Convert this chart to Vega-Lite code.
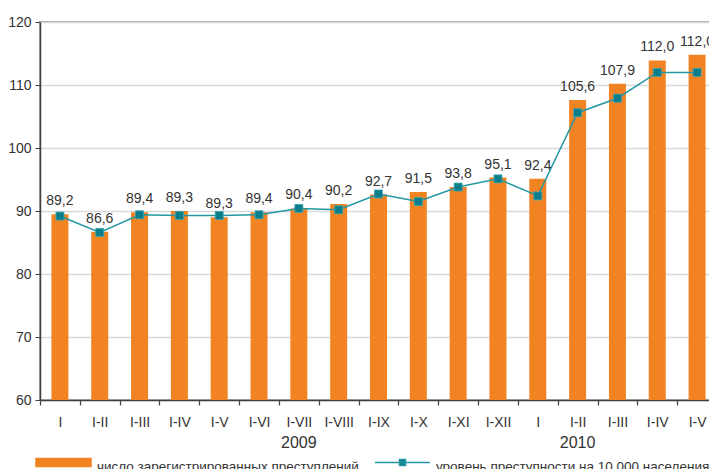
{
  "$schema": "https://vega.github.io/schema/vega-lite/v6.json",
  "width": 677,
  "height": 378,
  "autosize": "none",
  "padding": {"left": 40, "top": 22, "right": 0, "bottom": 69},
  "config": {
    "font": "Liberation Sans",
    "locale": {"number": {"decimal": ",", "thousands": " ", "grouping": [3], "currency": ["", ""]}},
    "view": {"stroke": "#8c8c8c", "strokeWidth": 1.5}
  },
  "data": {"values": [
    {"key": "2009|I", "bar": 89.5, "line": 89.2},
    {"key": "2009|I-II", "bar": 86.7, "line": 86.6},
    {"key": "2009|I-III", "bar": 89.8, "line": 89.4},
    {"key": "2009|I-IV", "bar": 90.0, "line": 89.3},
    {"key": "2009|I-V", "bar": 89.0, "line": 89.3},
    {"key": "2009|I-VI", "bar": 89.8, "line": 89.4},
    {"key": "2009|I-VII", "bar": 90.4, "line": 90.4},
    {"key": "2009|I-VIII", "bar": 91.1, "line": 90.2},
    {"key": "2009|I-IX", "bar": 92.6, "line": 92.7},
    {"key": "2009|I-X", "bar": 93.0, "line": 91.5},
    {"key": "2009|I-XI", "bar": 93.8, "line": 93.8},
    {"key": "2009|I-XII", "bar": 95.3, "line": 95.1},
    {"key": "2010|I", "bar": 95.1, "line": 92.4},
    {"key": "2010|I-II", "bar": 107.6, "line": 105.6},
    {"key": "2010|I-III", "bar": 110.2, "line": 107.9},
    {"key": "2010|I-IV", "bar": 113.9, "line": 112.0},
    {"key": "2010|I-V", "bar": 114.8, "line": 112.0}
  ]},
  "layer": [
    {
      "mark": {"type": "bar", "width": 17, "clip": true},
      "encoding": {
        "x": {"field": "key", "type": "ordinal", "sort": null,
          "scale": {"paddingInner": 0, "paddingOuter": 0},
          "axis": {"title": null, "orient": "bottom", "labelExpr": "split(datum.value,'|')[1]", "labelAngle": 0, "tickBand": "extent",
            "domainColor": "#404040", "domainWidth": 1.5, "tickColor": "#404040", "tickSize": 5, "tickWidth": 1.2,
            "labelFontSize": 14, "labelColor": "#333333", "labelPadding": 10, "grid": false, "labelOverlap": false}},
        "y": {"field": "bar", "type": "quantitative", "title": null,
          "scale": {"domain": [60, 120], "nice": false, "zero": false},
          "axis": {"values": [60, 70, 80, 90, 100, 110, 120], "domainColor": "#404040", "domainWidth": 1.5,
            "tickColor": "#404040", "tickSize": 5, "labelFontSize": 14, "labelColor": "#333333", "labelPadding": 4,
            "gridColor": "#d9d9d9", "gridWidth": 1.5}},
        "color": {"datum": "число зарегистрированных преступлений", "type": "nominal",
          "scale": {"domain": ["число зарегистрированных преступлений", "уровень преступности на 10 000 населения"], "range": ["#f28322", "#0b7d8a"]},
          "legend": {"title": null, "orient": "none", "direction": "horizontal", "legendX": -5, "legendY": 412,
            "symbolSize": 3025, "labelFontSize": 13.5, "labelColor": "#333333", "labelLimit": 400, "labelOffset": 5,
            "columnPadding": 13, "padding": 0,
            "encode": {
              "labels": {"update": {"dy": {"value": 4}}},
              "symbols": {"update": {
              "shape": {"signal": "datum.value === 'число зарегистрированных преступлений' ? 'M-1,-0.145H1V0.145H-1Z' : 'M-1,0H1M-0.11,-0.11H0.11V0.11H-0.11Z'"},
              "fill": {"signal": "datum.value === 'число зарегистрированных преступлений' ? '#f28322' : '#0b7d8a'"},
              "stroke": {"signal": "datum.value === 'число зарегистрированных преступлений' ? '#f28322' : '#2496a3'"},
              "strokeWidth": {"value": 1.5},
              "opacity": {"value": 1}
            }}}}
        }
      }
    },
    {
      "mark": {"type": "line", "color": "#2496a3", "strokeWidth": 1.5},
      "encoding": {
        "x": {"field": "key", "type": "ordinal", "sort": null,
          "axis": {"title": null, "orient": "bottom", "labelExpr": "datum.value == '2009|I-VII' ? '2009' : datum.value == '2010|I-II' ? '2010' : ''",
            "labelAngle": 0, "ticks": false, "domain": false, "grid": false, "labelFontSize": 16, "labelColor": "#333333",
            "labelPadding": 34, "labelOverlap": false,
            "encode": {"labels": {"update": {"dx": {"signal": "datum.value == '2010|I-II' ? 20 : -2"}}}}}},
        "y": {"field": "line", "type": "quantitative", "title": null}
      }
    },
    {
      "mark": {"type": "point", "shape": "square", "size": 64, "filled": true, "color": "#0b7d8a", "opacity": 1, "stroke": "#3aa6b3", "strokeWidth": 0.8},
      "encoding": {
        "x": {"field": "key", "type": "ordinal", "sort": null, "axis": null},
        "y": {"field": "line", "type": "quantitative", "title": null}
      }
    },
    {
      "mark": {"type": "text", "dy": -13, "fontSize": 14, "color": "#333333"},
      "encoding": {
        "x": {"field": "key", "type": "ordinal", "sort": null, "axis": null},
        "y": {"field": "bar", "type": "quantitative", "title": null},
        "text": {"field": "line", "type": "quantitative", "format": ".1f"}
      }
    }
  ],
  "resolve": {"axis": {"x": "independent"}}
}
